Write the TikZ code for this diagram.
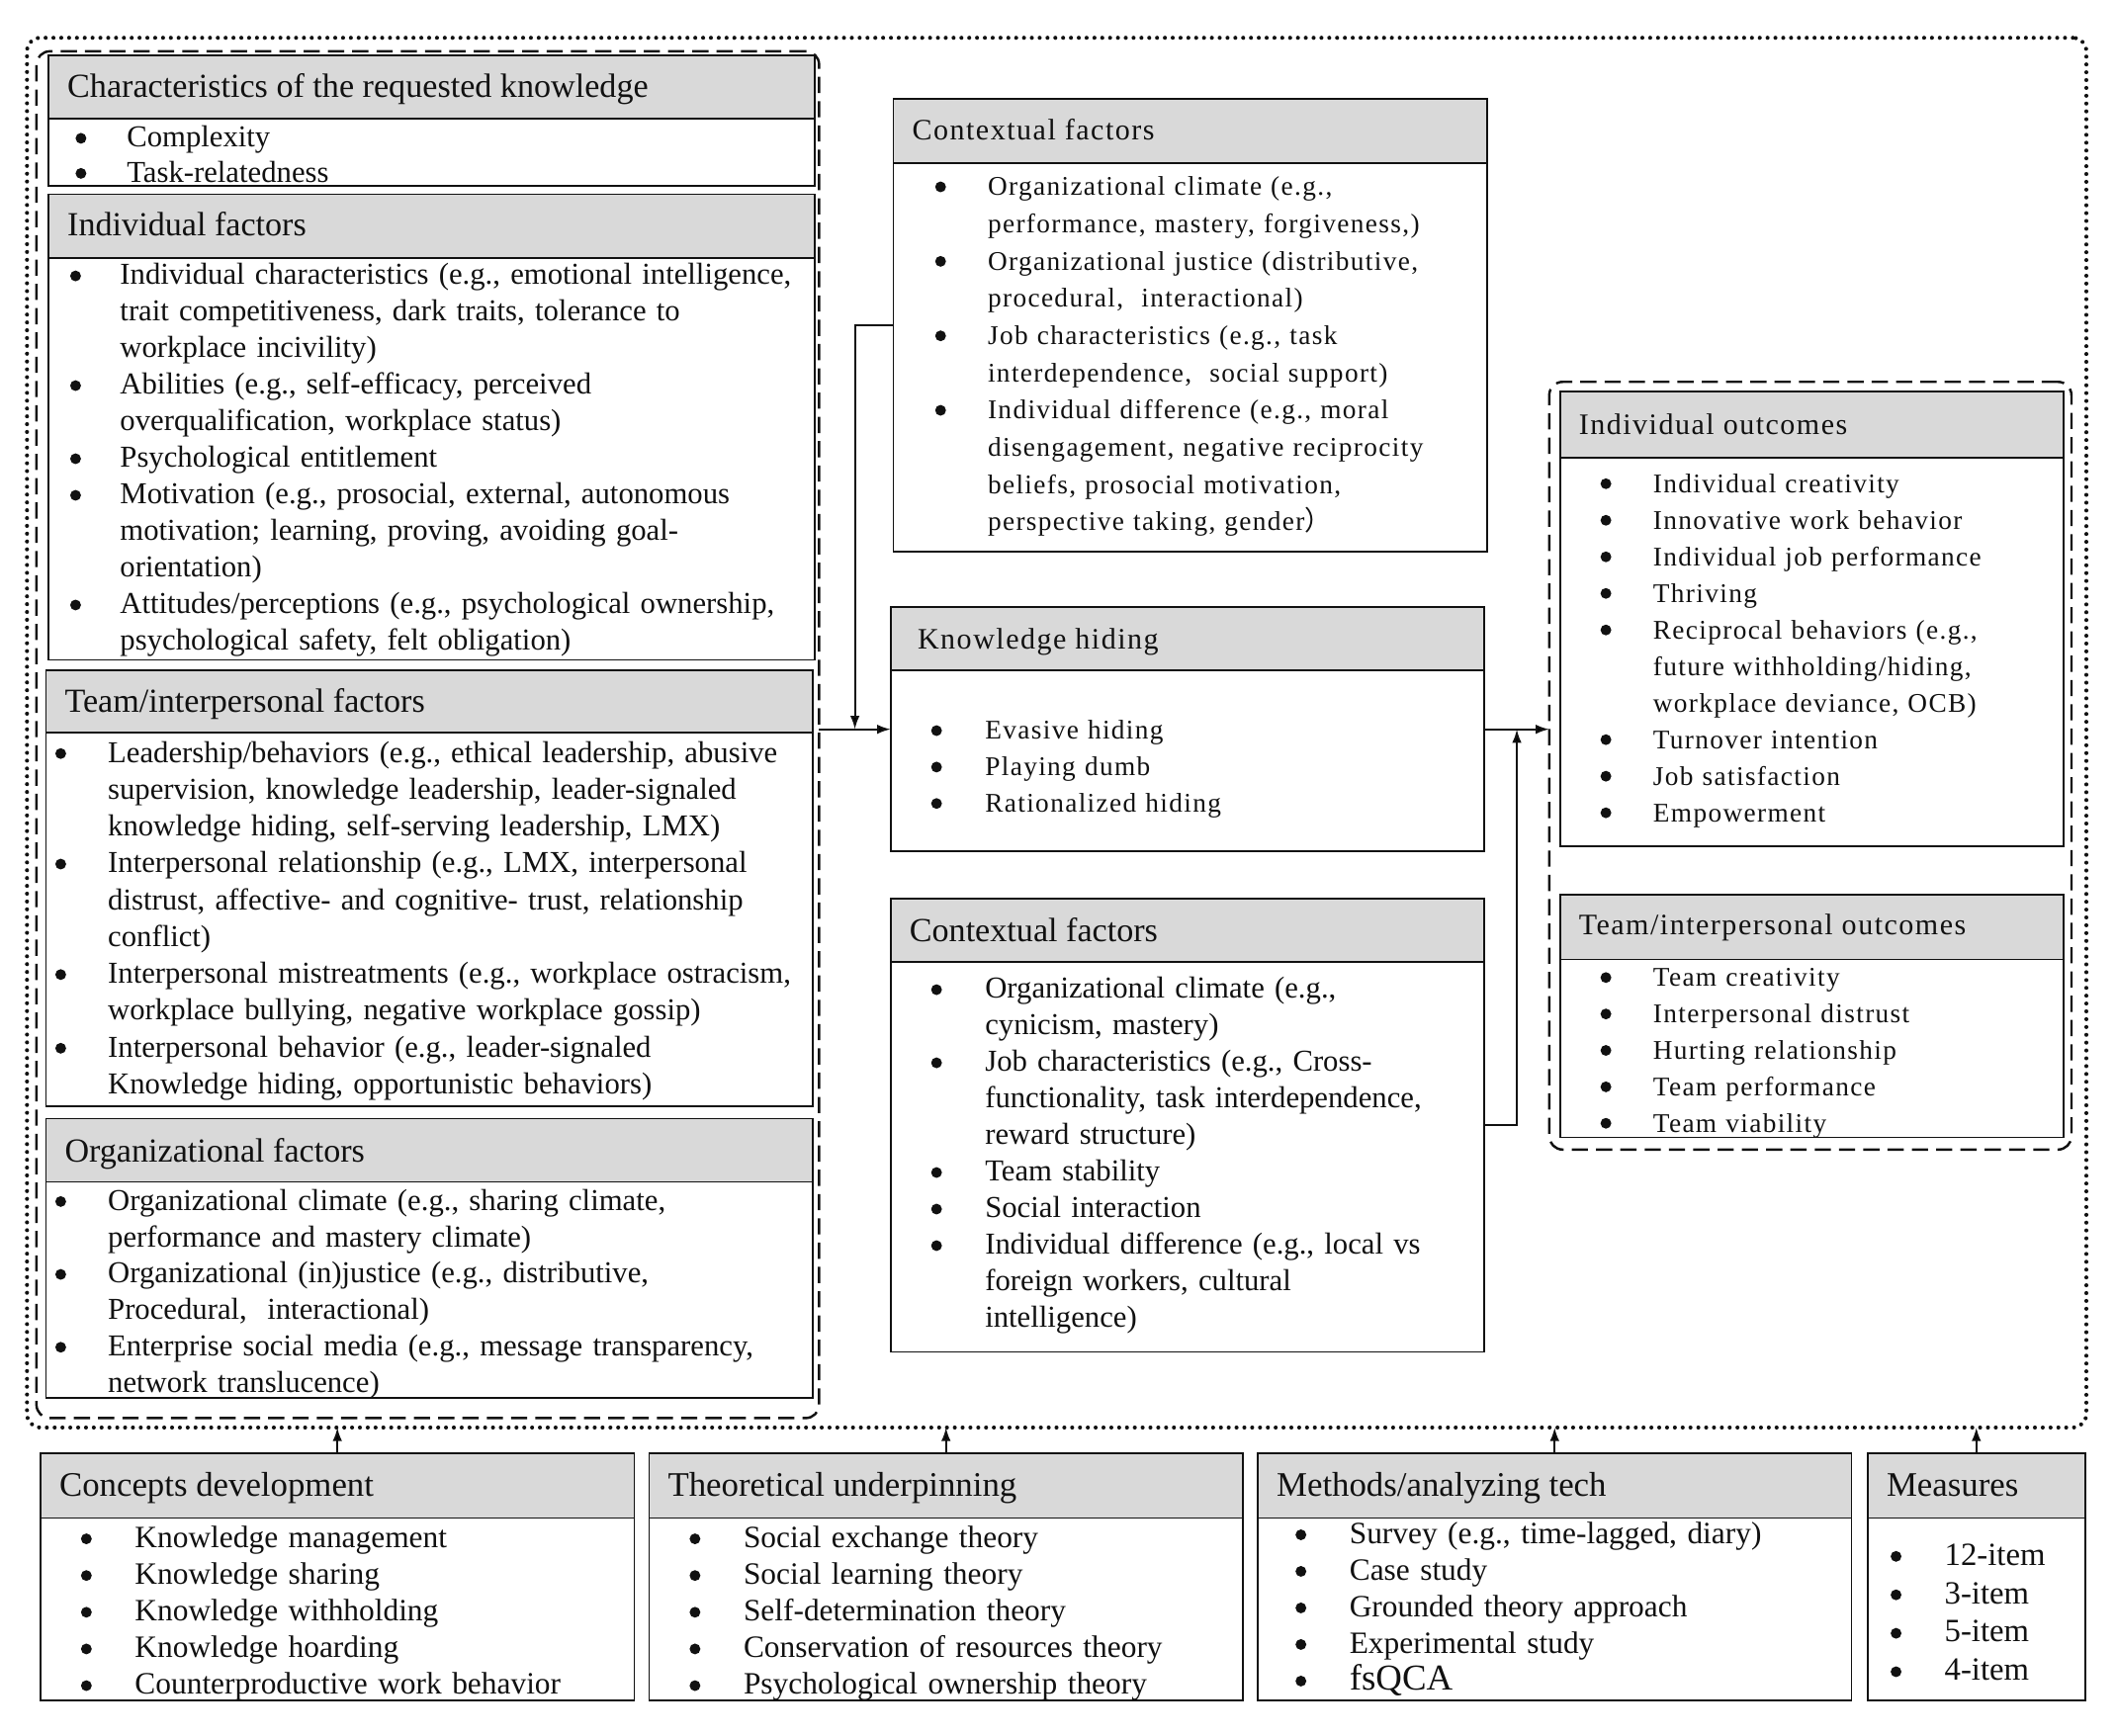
\documentclass[tikz,border=0pt]{standalone}
\usepackage{fontspec}
\setmainfont{Liberation Serif}
\newfontfamily\spfont[LetterSpace=5]{Liberation Serif}
\newfontfamily\cjk{Noto Sans CJK SC}
\usetikzlibrary{arrows.meta,calc}
\definecolor{hdrgray}{HTML}{D9D9D9}
\definecolor{ink}{HTML}{111111}
\newlength\bw
\newcommand\kdot{\tikz[baseline=0pt]\fill[ink] (0pt,6.5pt) circle[radius=4pt];}
\newcommand\kbul{\makebox[\bw][l]{\kdot}}
\newcommand\kcont{\hspace*{\bw}}
\newcommand\kpanel[6]{%
  \node[hdr, minimum width={#4pt-#2pt}, minimum height={#5pt-#3pt}] (#1h) at (#2,#3) {};
  \node[bdy, minimum width={#4pt-#2pt}, minimum height={#6pt-#5pt}] (#1b) at (#2,#5) {};
  \node[frm, minimum width={#4pt-#2pt}, minimum height={#6pt-#3pt}] (#1) at (#2,#3) {};
}
\begin{document}
\begin{tikzpicture}[x=1pt,y=-1pt,
  every node/.style={inner sep=0pt, outer sep=0pt, text=ink},
  hdr/.style={draw=ink, fill=hdrgray, line width=1.3pt, anchor=north west},
  bdy/.style={draw=ink, fill=white, line width=1.3pt, anchor=north west},
  frm/.style={anchor=north west},
  ttlA/.style={anchor=base west, font=\fontsize{25}{30}\selectfont},
  ttlB/.style={anchor=base west, font=\spfont\fontsize{22}{27}\selectfont},
  ttlC/.style={anchor=base west, font=\fontsize{25.5}{30}\selectfont},
  lstA/.style={anchor=base west, align=left, text width=620pt, font=\fontsize{22.5}{#1}\selectfont},
  lstB/.style={anchor=base west, align=left, text width=620pt, font=\spfont\fontsize{20}{#1}\selectfont},
  lstC/.style={anchor=base west, align=left, text width=620pt, font=\fontsize{23}{#1}\selectfont},
  bw/.style={execute at begin node={\setlength\bw{#1pt}}},
  grp/.style={draw=ink, line width=1.8pt, dash pattern=on 12pt off 6pt, rounded corners=10pt, anchor=north west},
  dots/.style={draw=ink, line width=3pt, dash pattern=on 0pt off 5.8pt, line cap=round, rounded corners=10pt, anchor=north west},
  arr/.style={-{Latex[length=10pt,width=7pt]}, line width=1.4pt, draw=ink}]

\fill[white] (0,0) rectangle (1568,1286);
\useasboundingbox (0,0) rectangle (1568,1286);

% outer frames
\node[dots, minimum width=1526pt, minimum height=1030pt] (outer) at (20,28) {};
\node[grp, minimum width=580pt, minimum height=1013pt] (leftgrp) at (27,38) {};
\node[grp, minimum width=387pt, minimum height=569pt] (rightgrp) at (1148,283) {};

% ---- left column
\kpanel{ch}{36}{41}{604}{88}{138}
\node[ttlA] (chT) at (50,72) {Characteristics of the requested knowledge};
\node[lstA=26, bw=38] (chL) at (56,109) {\kbul Complexity\\\kbul Task-relatedness};

\kpanel{ind}{36}{144}{604}{191}{489}
\node[ttlA] (indT) at (50,175) {Individual factors};
\node[lstA=27.1, bw=37] (indL) at (52,211) {%
\kbul Individual characteristics (e.g., emotional intelligence,\\
\kcont trait competitiveness, dark traits, tolerance to\\
\kcont workplace incivility)\\
\kbul Abilities (e.g., self-efficacy, perceived\\
\kcont overqualification, workplace status)\\
\kbul Psychological entitlement\\
\kbul Motivation (e.g., prosocial, external, autonomous\\
\kcont motivation; learning, proving, avoiding goal-\\
\kcont orientation)\\
\kbul Attitudes/perceptions (e.g., psychological ownership,\\
\kcont psychological safety, felt obligation)};

\kpanel{team}{34}{497}{602}{543}{820}
\node[ttlA] (teamT) at (48,528) {Team/interpersonal factors};
\node[lstA=27.3, bw=39] (teamL) at (41,565) {%
\kbul Leadership/behaviors (e.g., ethical leadership, abusive\\
\kcont supervision, knowledge leadership, leader-signaled\\
\kcont knowledge hiding, self-serving leadership, LMX)\\
\kbul Interpersonal relationship (e.g., LMX, interpersonal\\
\kcont distrust, affective- and cognitive- trust, relationship\\
\kcont conflict)\\
\kbul Interpersonal mistreatments (e.g., workplace ostracism,\\
\kcont workplace bullying, negative workplace gossip)\\
\kbul Interpersonal behavior (e.g., leader-signaled\\
\kcont Knowledge hiding, opportunistic behaviors)};

\kpanel{org}{34}{829}{602}{876}{1036}
\node[ttlA] (orgT) at (48,861) {Organizational factors};
\node[lstA=27, bw=39] (orgL) at (41,897) {%
\kbul Organizational climate (e.g., sharing climate,\\
\kcont performance and mastery climate)\\
\kbul Organizational (in)justice (e.g., distributive,\\
\kcont Procedural,\ \ interactional)\\
\kbul Enterprise social media (e.g., message transparency,\\
\kcont network translucence)};

% ---- middle column
\kpanel{ctxa}{662}{73}{1102}{121}{409}
\node[ttlB] (ctxaT) at (676,104) {Contextual factors};
\node[lstB=27.6, bw=39] (ctxaL) at (693,145) {%
\kbul Organizational climate (e.g.,\\
\kcont performance, mastery, forgiveness,)\\
\kbul Organizational justice (distributive,\\
\kcont procedural,\ \ interactional)\\
\kbul Job characteristics (e.g., task\\
\kcont interdependence,\ \ social support)\\
\kbul Individual difference (e.g., moral\\
\kcont disengagement, negative reciprocity\\
\kcont beliefs, prosocial motivation,\\
\kcont perspective taking, gender{\cjk ）}};

\kpanel{kh}{660}{450}{1100}{497}{631}
\node[ttlB] (khT) at (680,481) {Knowledge hiding};
\node[lstB=27, bw=40] (khL) at (690,548) {%
\kbul Evasive hiding\\
\kbul Playing dumb\\
\kbul Rationalized hiding};

\kpanel{ctxb}{660}{666}{1100}{713}{1002}
\node[ttlA] (ctxbT) at (674,698) {Contextual factors};
\node[lstA=27.1, bw=40] (ctxbL) at (690,740) {%
\kbul Organizational climate (e.g.,\\
\kcont cynicism, mastery)\\
\kbul Job characteristics (e.g., Cross-\\
\kcont functionality, task interdependence,\\
\kcont reward structure)\\
\kbul Team stability\\
\kbul Social interaction\\
\kbul Individual difference (e.g., local vs\\
\kcont foreign workers, cultural\\
\kcont intelligence)};

% ---- right column
\kpanel{io}{1156}{290}{1529}{339}{627}
\node[ttlB] (ioT) at (1170,322) {Individual outcomes};
\node[lstB=27.1, bw=39] (ioL) at (1186,365) {%
\kbul Individual creativity\\
\kbul Innovative work behavior\\
\kbul Individual job performance\\
\kbul Thriving\\
\kbul Reciprocal behaviors (e.g.,\\
\kcont future withholding/hiding,\\
\kcont workplace deviance, OCB)\\
\kbul Turnover intention\\
\kbul Job satisfaction\\
\kbul Empowerment};

\kpanel{to}{1156}{663}{1529}{711}{843}
\node[ttlB] (toT) at (1170,693) {Team/interpersonal outcomes};
\node[lstB=27, bw=39] (toL) at (1186,731) {%
\kbul Team creativity\\
\kbul Interpersonal distrust\\
\kbul Hurting relationship\\
\kbul Team performance\\
\kbul Team viability};

% ---- bottom row
\kpanel{cd}{30}{1077}{470}{1125}{1260}
\node[ttlC] (cdT) at (44,1109) {Concepts development};
\node[lstC=27.2, bw=40] (cdL) at (60,1147) {%
\kbul Knowledge management\\
\kbul Knowledge sharing\\
\kbul Knowledge withholding\\
\kbul Knowledge hoarding\\
\kbul Counterproductive work behavior};

\kpanel{tu}{481}{1077}{921}{1125}{1260}
\node[ttlC] (tuT) at (495,1109) {Theoretical underpinning};
\node[lstC=27.2, bw=40] (tuL) at (511,1147) {%
\kbul Social exchange theory\\
\kbul Social learning theory\\
\kbul Self-determination theory\\
\kbul Conservation of resources theory\\
\kbul Psychological ownership theory};

\kpanel{ma}{932}{1077}{1372}{1125}{1260}
\node[ttlC] (maT) at (946,1109) {Methods/analyzing tech};
\node[lstC=27.1, bw=40] (maL) at (960,1144) {%
\kbul Survey (e.g., time-lagged, diary)\\
\kbul Case study\\
\kbul Grounded theory approach\\
\kbul Experimental study\\
{\fontsize{27}{30}\selectfont\kbul fsQCA}};

\kpanel{me}{1384}{1077}{1545}{1125}{1260}
\node[ttlC] (meT) at (1398,1109) {Measures};
\node[lstC=28.5, font=\fontsize{24}{28.5}\selectfont, bw=40] (meL) at (1401,1160) {%
\kbul 12-item\\
\kbul 3-item\\
\kbul 5-item\\
\kbul 4-item};

% ---- connectors
\draw[arr] (leftgrp.east |- kh.west) -- (kh.west);
\draw[arr] (ctxa.west) -| ($(leftgrp.east |- kh.west)!0.5!(kh.west)$);
\draw[arr] (kh.east) -- (kh.east -| rightgrp.west);
\draw[arr] (ctxb.east) -| ($(kh.east)!0.5!(kh.east -| rightgrp.west)$);
\foreach \n in {cd,tu,ma,me}
  \draw[arr] (\n h.north) -- (\n h.north |- outer.south);
\end{tikzpicture}
\end{document}
